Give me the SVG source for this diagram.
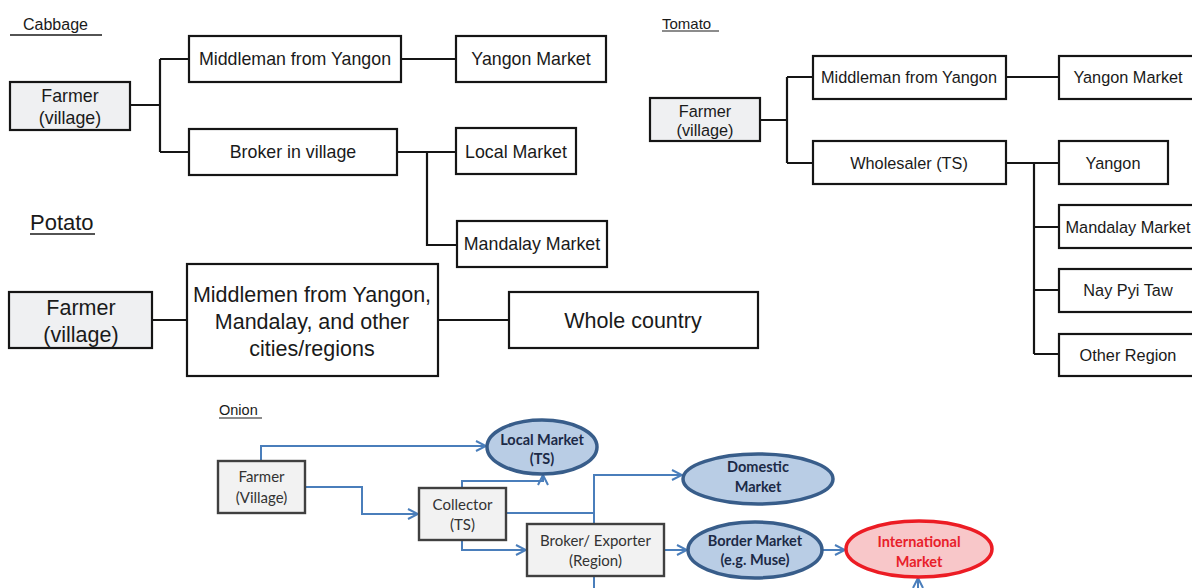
<svg xmlns="http://www.w3.org/2000/svg" width="1192" height="588" viewBox="0 0 1192 588">
  <style>
    .box { fill: #ffffff; stroke: #151515; stroke-width: 2.2; }
    .farm { fill: #eff0f2; stroke: #151515; stroke-width: 2.2; }
    .wire { fill: none; stroke: #151515; stroke-width: 2.2; }
    .t { font-family: "Liberation Sans", Arial, sans-serif; fill: #1a1a1a; text-anchor: middle; }
    .c { font-size: 17.8px; }
    .m { font-size: 16.3px; }
    .p { font-size: 21.5px; }
    .title { font-family: "Liberation Sans", Arial, sans-serif; fill: #1a1a1a; }
    .obox { fill: #f2f2f2; stroke: #404040; stroke-width: 2.4; }
    .oval { fill: #b9cde5; stroke: #385d8a; stroke-width: 3.5; }
    .ovalRed { fill: #f8c7c9; stroke: #ec1c24; stroke-width: 3.5; }
    .o { font-family: Lato, "Open Sans", sans-serif; font-size: 15px; fill: #333333; text-anchor: middle; }
    .ob { font-family: Lato, "Open Sans", sans-serif; font-size: 14.5px; font-weight: bold; fill: #1c2a47; text-anchor: middle; }
    .obRed { font-family: Lato, "Open Sans", sans-serif; font-size: 14.5px; font-weight: bold; fill: #e8202a; text-anchor: middle; }
    .flow { fill: none; stroke: #4a7ebb; stroke-width: 2; }
  </style>
  <defs>
    <marker id="open" viewBox="0 0 12 12" refX="11" refY="6" markerWidth="12" markerHeight="12" markerUnits="userSpaceOnUse" orient="auto">
      <path d="M1,1 L11,6 L1,11" fill="none" stroke="#4a7ebb" stroke-width="2"/>
    </marker>
  </defs>

  <!-- Section titles -->
  <text class="title" x="23" y="30" font-size="16">Cabbage</text>
  <line x1="10" y1="35" x2="102" y2="35" stroke="#1a1a1a" stroke-width="1.5"/>
  <text class="title" x="662" y="29" font-size="15">Tomato</text>
  <line x1="662" y1="31" x2="719" y2="31" stroke="#1a1a1a" stroke-width="1.2"/>
  <text class="title" x="30" y="230" font-size="22">Potato</text>
  <line x1="30" y1="234" x2="95" y2="234" stroke="#1a1a1a" stroke-width="1.5"/>
  <text class="title" x="219" y="415" font-size="14.5">Onion</text>
  <line x1="219" y1="418" x2="262" y2="418" stroke="#1a1a1a" stroke-width="1.2"/>

  <!-- Black tree connectors -->
  <g id="connectors-black" class="wire">
    <path d="M130,105 H160 M160,59 V152 M160,59 H189 M160,152 H189"/>
    <path d="M401,59 H456"/>
    <path d="M397,152 H456 M427,152 V245 H457"/>
    <path d="M152,320 H187 M438,320 H509"/>
    <path d="M760,120 H787 M787,77 V163 M787,77 H813 M787,163 H813"/>
    <path d="M1006,77 H1059"/>
    <path d="M1006,163 H1059 M1034,163 V354 M1034,227 H1059 M1034,290 H1059 M1034,354 H1059"/>
  </g>

  <!-- Cabbage -->
  <g id="cabbage-farmer">
    <rect class="farm" x="10" y="82" width="120" height="48"/>
    <text class="t c" x="70" y="102">Farmer</text>
    <text class="t c" x="70" y="124">(village)</text>
  </g>
  <g id="cabbage-middleman">
    <rect class="box" x="189" y="36" width="212" height="46"/>
    <text class="t c" x="295" y="65">Middleman from Yangon</text>
  </g>
  <g id="cabbage-yangon-market">
    <rect class="box" x="456" y="36" width="150" height="46"/>
    <text class="t c" x="531" y="65">Yangon Market</text>
  </g>
  <g id="cabbage-broker">
    <rect class="box" x="189" y="129" width="208" height="46"/>
    <text class="t c" x="293" y="158">Broker in village</text>
  </g>
  <g id="cabbage-local-market">
    <rect class="box" x="456" y="128" width="120" height="46"/>
    <text class="t c" x="516" y="158">Local Market</text>
  </g>
  <g id="cabbage-mandalay-market">
    <rect class="box" x="457" y="221" width="150" height="46"/>
    <text class="t c" x="532" y="250">Mandalay Market</text>
  </g>

  <!-- Potato -->
  <g id="potato-farmer">
    <rect class="farm" x="9" y="292" width="143" height="56"/>
    <text class="t p" x="81" y="315">Farmer</text>
    <text class="t p" x="81" y="342">(village)</text>
  </g>
  <g id="potato-middlemen">
    <rect class="box" x="187" y="264" width="251" height="112"/>
    <text class="t p" x="312" y="302">Middlemen from Yangon,</text>
    <text class="t p" x="312" y="329">Mandalay, and other</text>
    <text class="t p" x="312" y="356">cities/regions</text>
  </g>
  <g id="potato-whole-country">
    <rect class="box" x="509" y="292" width="249" height="56"/>
    <text class="t p" x="633" y="328">Whole country</text>
  </g>

  <!-- Tomato -->
  <g id="tomato-farmer">
    <rect class="farm" x="650" y="98" width="110" height="43"/>
    <text class="t m" x="705" y="117">Farmer</text>
    <text class="t m" x="705" y="136">(village)</text>
  </g>
  <g id="tomato-middleman">
    <rect class="box" x="813" y="56" width="193" height="43"/>
    <text class="t m" x="909" y="83">Middleman from Yangon</text>
  </g>
  <g id="tomato-yangon-market">
    <rect class="box" x="1059" y="56" width="140" height="43"/>
    <text class="t m" x="1128" y="83">Yangon Market</text>
  </g>
  <g id="tomato-wholesaler">
    <rect class="box" x="813" y="141" width="193" height="43"/>
    <text class="t m" x="909" y="169">Wholesaler (TS)</text>
  </g>
  <g id="tomato-yangon">
    <rect class="box" x="1059" y="141" width="109" height="43"/>
    <text class="t m" x="1113" y="169">Yangon</text>
  </g>
  <g id="tomato-mandalay-market">
    <rect class="box" x="1059" y="205" width="140" height="43"/>
    <text class="t m" x="1128" y="233">Mandalay Market</text>
  </g>
  <g id="tomato-nay-pyi-taw">
    <rect class="box" x="1059" y="269" width="140" height="43"/>
    <text class="t m" x="1128" y="296">Nay Pyi Taw</text>
  </g>
  <g id="tomato-other-region">
    <rect class="box" x="1059" y="334" width="140" height="42"/>
    <text class="t m" x="1128" y="361">Other Region</text>
  </g>

  <!-- Onion flow arrows -->
  <g id="connectors-onion" class="flow">
    <path d="M261,461 V446 H486" marker-end="url(#open)"/>
    <path d="M305,487 H362 V514 H418" marker-end="url(#open)"/>
    <path d="M462,488 V481 H543 V475" marker-end="url(#open)"/>
    <path d="M506,513 H594"/>
    <path d="M594,524 V475 H682" marker-end="url(#open)"/>
    <path d="M462,540 V550 H526" marker-end="url(#open)"/>
    <path d="M664,550 H687" marker-end="url(#open)"/>
    <path d="M823,550 H845" marker-end="url(#open)"/>
    <path d="M594,576 V590"/>
    <path d="M918,590 V578" marker-end="url(#open)"/>
  </g>

  <!-- Onion -->
  <g id="onion-farmer">
    <rect class="obox" x="218" y="461" width="87" height="52"/>
    <text class="o" x="261.5" y="482">Farmer</text>
    <text class="o" x="261.5" y="503">(Village)</text>
  </g>
  <g id="onion-collector">
    <rect class="obox" x="419" y="488" width="87" height="52"/>
    <text class="o" x="462.5" y="510">Collector</text>
    <text class="o" x="462.5" y="530">(TS)</text>
  </g>
  <g id="onion-broker">
    <rect class="obox" x="527" y="524" width="137" height="52"/>
    <text class="o" x="595.5" y="546">Broker/ Exporter</text>
    <text class="o" x="595.5" y="566">(Region)</text>
  </g>
  <g id="onion-local-market">
    <ellipse class="oval" cx="542" cy="447" rx="55" ry="27"/>
    <text class="ob" x="542" y="445">Local Market</text>
    <text class="ob" x="542" y="464">(TS)</text>
  </g>
  <g id="onion-domestic-market">
    <ellipse class="oval" cx="758" cy="479" rx="75" ry="25"/>
    <text class="ob" x="758" y="472">Domestic</text>
    <text class="ob" x="758" y="492">Market</text>
  </g>
  <g id="onion-border-market">
    <ellipse class="oval" cx="755" cy="550" rx="67" ry="28"/>
    <text class="ob" x="755" y="546">Border Market</text>
    <text class="ob" x="755" y="565">(e.g. Muse)</text>
  </g>
  <g id="onion-international-market">
    <ellipse class="ovalRed" cx="919" cy="549" rx="73" ry="28"/>
    <text class="obRed" x="919" y="547">International</text>
    <text class="obRed" x="919" y="567">Market</text>
  </g>
</svg>
